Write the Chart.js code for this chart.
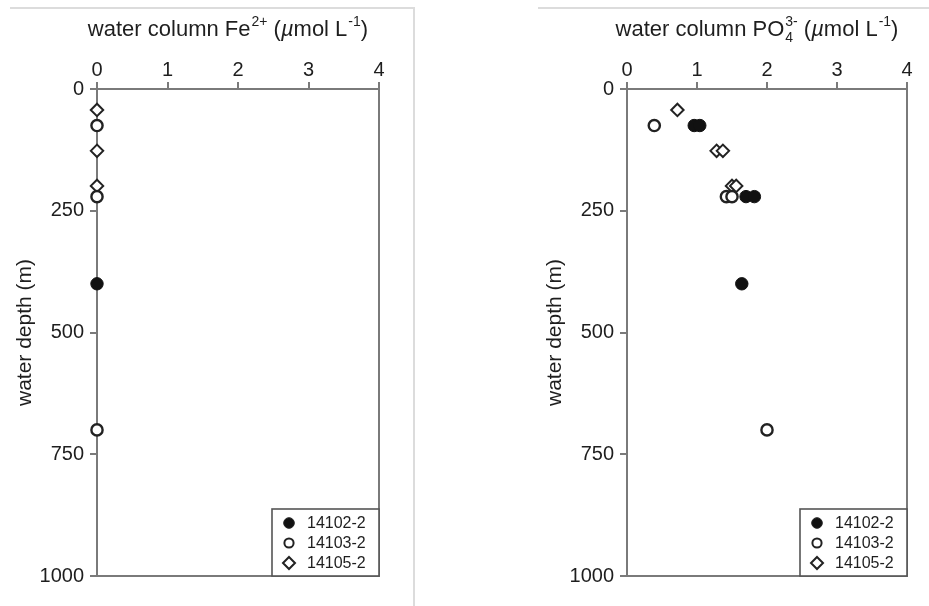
<!DOCTYPE html>
<html>
<head>
<meta charset="utf-8">
<script src="https://cdn.jsdelivr.net/npm/chart.js@4/dist/chart.umd.min.js"></script>
<style>
  body { margin: 0; background: #fff; width: 929px; height: 606px; position: relative; overflow: hidden; }
  canvas { position: absolute; top: 0; }
  #feChart { left: 0; }
  #poChart { left: 538px; }
  .frame1 { position: absolute; left: 10px; top: 7px; width: 403px; height: 610px; border-top: 2px solid #dcdcdc; border-right: 2px solid #dcdcdc; }
  .frame2 { position: absolute; left: 538px; top: 7px; width: 391px; border-top: 2px solid #dcdcdc; }
</style>
</head>
<body>
<div class="frame1"></div>
<div class="frame2"></div>
<canvas id="feChart" width="415" height="606"></canvas>
<canvas id="poChart" width="391" height="606"></canvas>
<script>
const stations = ['14102-2', '14103-2', '14105-2'];
const concTicks = [0, 1, 2, 3, 4];
const depthTicks = [0, 250, 500, 750, 1000];

// Fe2+ (umol/L) vs depth (m)
const fe14102 = [0];
const feDepth14102 = [400];
const fe14103 = [0, 0, 0];
const feDepth14103 = [75, 221, 700];
const fe14105 = [0, 0, 0];
const feDepth14105 = [43, 127, 199];

// PO4 3- (umol/L) vs depth (m)
const po14102 = [0.96, 1.04, 1.70, 1.82, 1.64];
const poDepth14102 = [75, 75, 221, 221, 400];
const po14103 = [0.39, 1.42, 1.50, 2.0];
const poDepth14103 = [75, 221, 221, 700];
const po14105 = [0.72, 1.28, 1.37, 1.50, 1.56];
const poDepth14105 = [43, 127, 127, 199, 199];

const FONT = '"Liberation Sans", Arial, Helvetica, sans-serif';
const AXIS = '#7a7a7a';
const INK = '#1e1e1e';

const markerStyles = [
  { pointStyle: 'circle', pointRadius: 6.2, pointBackgroundColor: '#111', pointBorderColor: '#111', pointBorderWidth: 1 },
  { pointStyle: 'circle', pointRadius: 5.6, pointBackgroundColor: '#fff', pointBorderColor: '#222', pointBorderWidth: 2.4 },
  { pointStyle: 'rectRot', pointRadius: 6.2, pointBackgroundColor: '#fff', pointBorderColor: '#222', pointBorderWidth: 2 }
];

const toPoints = (xs, ys) => xs.map((x, i) => ({ x, y: ys[i] }));
const dataset = (i, xs, ys) => ({ label: stations[i], data: toPoints(xs, ys), clip: false, ...markerStyles[i] });

// draws a run of text parts, normal / italic / sup / stacked sub+sup
const drawRich = (ctx, parts, cx, y) => {
  const big = '22px ' + FONT, small = '14px ' + FONT;
  const width = p => {
    if (p.sup || p.sub) {
      ctx.font = small;
      return Math.max(ctx.measureText(p.sup || '').width, ctx.measureText(p.sub || '').width) + 1;
    }
    ctx.font = (p.it ? 'italic ' : '') + big;
    return ctx.measureText(p.t).width;
  };
  const total = parts.reduce((s, p) => s + width(p), 0);
  let x = cx - total / 2;
  ctx.textBaseline = 'alphabetic';
  ctx.textAlign = 'left';
  parts.forEach(p => {
    const w = width(p);
    if (p.sup || p.sub) {
      ctx.font = small;
      if (p.sup) ctx.fillText(p.sup, x + 1, y - 10);
      if (p.sub) ctx.fillText(p.sub, x + 1, y + 6);
    } else {
      ctx.font = (p.it ? 'italic ' : '') + big;
      ctx.fillText(p.t, x, y);
    }
    x += w;
  });
};

const decor = {
  id: 'decor',
  afterDraw(chart, args, opts) {
    const { ctx, chartArea: a } = chart;
    ctx.save();

    // right and bottom frame
    ctx.strokeStyle = AXIS;
    ctx.lineWidth = 2;
    ctx.beginPath();
    ctx.moveTo(a.right, a.top);
    ctx.lineTo(a.right, a.bottom);
    ctx.lineTo(a.left, a.bottom);
    ctx.stroke();

    // titles
    ctx.fillStyle = INK;
    drawRich(ctx, opts.title, (a.left + a.right) / 2 - 10, 36);
    ctx.save();
    ctx.translate(a.left - 72, (a.top + a.bottom) / 2);
    ctx.rotate(-Math.PI / 2);
    ctx.font = '21px ' + FONT;
    ctx.textAlign = 'center';
    ctx.textBaseline = 'middle';
    ctx.fillText('water depth (m)', 0, 0);
    ctx.restore();

    // legend box in lower right corner
    const bw = 107, bh = 67;
    const bx = a.right - bw, by = a.bottom - bh;
    ctx.fillStyle = '#fff';
    ctx.fillRect(bx, by, bw, bh);
    ctx.strokeStyle = '#555';
    ctx.lineWidth = 1.6;
    ctx.strokeRect(bx, by, bw, bh);
    ctx.font = '16px ' + FONT;
    ctx.textAlign = 'left';
    ctx.textBaseline = 'middle';
    stations.forEach((name, i) => {
      const cy = by + 14 + i * 20, mx = bx + 17;
      ctx.beginPath();
      if (i === 2) {
        ctx.moveTo(mx, cy - 6); ctx.lineTo(mx + 6, cy); ctx.lineTo(mx, cy + 6); ctx.lineTo(mx - 6, cy); ctx.closePath();
      } else {
        ctx.arc(mx, cy, i === 0 ? 5.3 : 4.6, 0, Math.PI * 2);
      }
      ctx.fillStyle = i === 0 ? '#111' : '#fff';
      ctx.fill();
      ctx.strokeStyle = '#222';
      ctx.lineWidth = i === 0 ? 1 : 2;
      ctx.stroke();
      ctx.fillStyle = INK;
      ctx.fillText(name, bx + 35, cy + 1);
    });
    ctx.restore();
  }
};

const makeChart = (id, datasets, yWidth, padRight, title) => new Chart(document.getElementById(id), {
  type: 'scatter',
  data: { datasets },
  options: {
    responsive: false,
    animation: false,
    events: [],
    layout: { padding: { left: 0, right: padRight, top: 0, bottom: 30 } },
    plugins: { legend: { display: false }, tooltip: { enabled: false }, decor: { title } },
    scales: {
      x: {
        type: 'linear', position: 'top', min: 0, max: 4,
        afterBuildTicks: s => { s.ticks = concTicks.map(v => ({ value: v })); },
        afterFit: s => { s.height = 89; },
        ticks: { font: { family: FONT, size: 20 }, color: INK, padding: 0, maxRotation: 0, callback: v => String(v) },
        grid: { drawOnChartArea: false, tickLength: 7, color: AXIS, lineWidth: 2 },
        border: { color: AXIS, width: 2 }
      },
      y: {
        type: 'linear', reverse: true, min: 0, max: 1000,
        afterBuildTicks: s => { s.ticks = depthTicks.map(v => ({ value: v })); },
        afterFit: s => { s.width = yWidth; },
        ticks: { font: { family: FONT, size: 20 }, color: INK, padding: 6, callback: v => String(v) },
        grid: { drawOnChartArea: false, tickLength: 7, color: AXIS, lineWidth: 2 },
        border: { color: AXIS, width: 2 }
      }
    }
  },
  plugins: [decor]
});

makeChart('feChart', [
  dataset(0, fe14102, feDepth14102),
  dataset(1, fe14103, feDepth14103),
  dataset(2, fe14105, feDepth14105)
], 97, 36, [
  { t: 'water column Fe' }, { sup: '2+' }, { t: ' (' }, { t: 'µ', it: true }, { t: 'mol L' }, { sup: '-1' }, { t: ')' }
]);

makeChart('poChart', [
  dataset(0, po14102, poDepth14102),
  dataset(1, po14103, poDepth14103),
  dataset(2, po14105, poDepth14105)
], 89, 22, [
  { t: 'water column PO' }, { sup: '3-', sub: '4' }, { t: ' (' }, { t: 'µ', it: true }, { t: 'mol L' }, { sup: '-1' }, { t: ')' }
]);
</script>
</body>
</html>
